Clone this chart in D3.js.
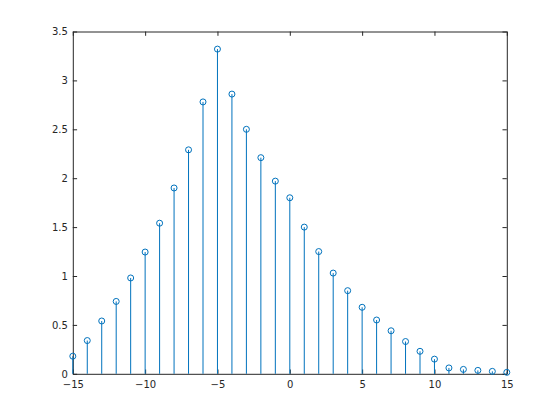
<!DOCTYPE html>
<html>
<head>
<meta charset="utf-8">
<script src="https://cdn.jsdelivr.net/npm/d3@7"></script>
<style>
    body { margin: 0; background: #fff; }
    svg { display: block; }
    .tick text { font-family: "DejaVu Sans", sans-serif; font-size: 10px; fill: #262626; }
</style>
</head>
<body>
<svg id="chart" width="560" height="420"></svg>
<script>
    'use strict';

    // stem data
    var xs = [-15, -14, -13, -12, -11, -10, -9, -8, -7, -6, -5, -4, -3, -2, -1,
              0, 1, 2, 3, 4, 5, 6, 7, 8, 9, 10, 11, 12, 13, 14, 15];
    var ys = [0.18, 0.34, 0.54, 0.74, 0.98, 1.245, 1.54, 1.90, 2.29, 2.78, 3.32,
              2.86, 2.50, 2.21, 1.97, 1.80, 1.50, 1.25, 1.03, 0.85, 0.68, 0.55,
              0.44, 0.33, 0.23, 0.15, 0.06, 0.045, 0.035, 0.025, 0.015];
    var xTicks = [-15, -10, -5, 0, 5, 10, 15];
    var yTicks = [0, 0.5, 1, 1.5, 2, 2.5, 3, 3.5];

    (function() {
        var pLeft = 72.8, pRight = 506.8, pTop = 31.5, pBottom = 373.8;
        var svg = d3.select('#chart');

        var x = d3.scaleLinear().domain([-15, 15]).range([pLeft, pRight]);
        var y = d3.scaleLinear().domain([0, 3.5]).range([pBottom, pTop]);

        var col = '#0072BD', axisCol = '#262626';
        var tick = 4.3;

        /**************************************************************
            axes (box with inward ticks on all sides)
         **************************************************************/
        var xAxis = svg.append('g')
            .attr('transform', 'translate(0,' + pBottom + ')')
            .call(d3.axisBottom(x).tickValues(xTicks).tickSizeInner(-tick).tickSizeOuter(0)
                .tickFormat(d3.format('d')));
        xAxis.selectAll('text').attr('y', 6).attr('dy', '0.85em');

        var yAxis = svg.append('g')
            .attr('transform', 'translate(' + pLeft + ',0)')
            .call(d3.axisLeft(y).tickValues(yTicks).tickSizeInner(-tick).tickSizeOuter(0)
                .tickFormat(function(d) { return String(d); }));
        yAxis.selectAll('text').attr('x', -5);

        svg.append('g')
            .attr('transform', 'translate(0,' + pTop + ')')
            .call(d3.axisTop(x).tickValues(xTicks).tickSizeInner(-tick).tickSizeOuter(0).tickFormat(''));

        svg.append('g')
            .attr('transform', 'translate(' + pRight + ',0)')
            .call(d3.axisRight(y).tickValues(yTicks).tickSizeInner(-tick).tickSizeOuter(0).tickFormat(''));

        svg.selectAll('.domain').attr('stroke', axisCol);
        svg.selectAll('.tick line').attr('stroke', axisCol);

        /**************************************************************
            stems
         **************************************************************/
        var data = xs.map(function(d, i) { return { x: d, y: ys[i] }; });

        svg.append('g').selectAll('line')
            .data(data).enter()
            .append('line')
                .attr('x1', function(d) { return x(d.x); })
                .attr('x2', function(d) { return x(d.x); })
                .attr('y1', y(0))
                .attr('y2', function(d) { return y(d.y); })
                .attr('stroke', col)
                .attr('stroke-width', 1);

        svg.append('g').selectAll('circle')
            .data(data).enter()
            .append('circle')
                .attr('cx', function(d) { return x(d.x); })
                .attr('cy', function(d) { return y(d.y); })
                .attr('r', 3)
                .attr('fill', 'none')
                .attr('stroke', col)
                .attr('stroke-width', 1);
    })();
</script>
</body>
</html>
